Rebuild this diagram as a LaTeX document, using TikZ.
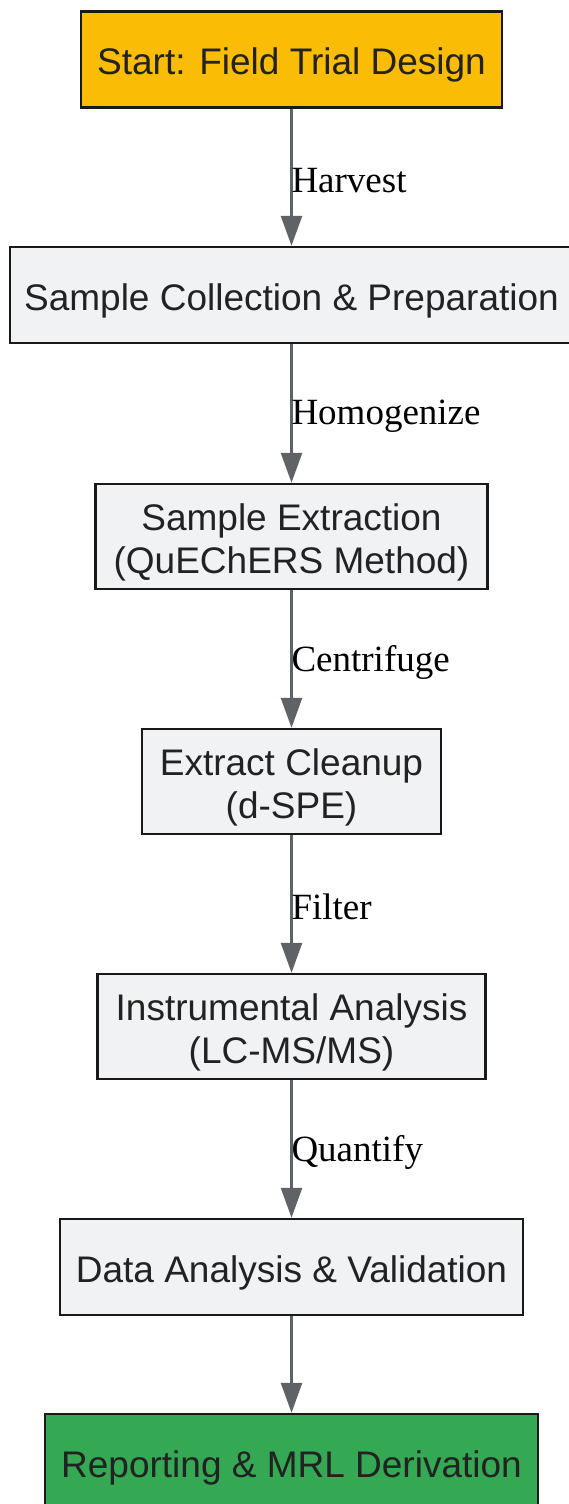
\documentclass[tikz,border=0pt]{standalone}
\usepackage{fontspec}
\setmainfont{Liberation Serif}
\newfontfamily\boxfont{Liberation Sans}
\usetikzlibrary{arrows.meta}

\definecolor{startfill}{HTML}{FBBC05}
\definecolor{endfill}{HTML}{34A853}
\definecolor{stepfill}{HTML}{F1F2F4}
\definecolor{flowgray}{HTML}{5F6368}
\definecolor{boxtext}{HTML}{222222}

% strut that pushes the first line down a little
\newcommand{\boxstrut}{\rule{0pt}{38.5pt}}

\tikzset{
  stagebox/.style={draw=black!90, line width=2.4pt, fill=stepfill, text=boxtext,
    font=\boxfont\fontsize{37}{43}\selectfont, align=center,
    inner xsep=14pt, inner ysep=0pt, minimum height=96pt},
  twoline/.style={minimum height=105pt},
  flow/.style={draw=flowgray, line width=2.6pt, -{Triangle[length=30pt,width=21pt]}},
  steplabel/.style={font=\fontsize{37}{41}\selectfont, anchor=west, inner sep=0pt,
    xshift=-1.3pt, yshift=-3pt}
}

\begin{document}
\begin{tikzpicture}[x=1pt,y=1pt]
  \useasboundingbox (0,0) rectangle (569,-1504);

  \node[stagebox, fill=startfill, inner xsep=16pt] (start) at (291.5,-59.5) {\boxstrut Start: Field Trial Design};
  \node[stagebox] (collect) at (291.5,-295) {\boxstrut Sample Collection \& Preparation};
  \node[stagebox, twoline, inner xsep=18pt] (extract) at (291.5,-536.5) {\boxstrut Sample Extraction\\(QuEChERS Method)};
  \node[stagebox, twoline, inner xsep=18pt] (cleanup) at (291.5,-781.5) {\boxstrut Extract Cleanup\\(d-SPE)};
  \node[stagebox, twoline, inner xsep=18pt] (instrument) at (291.5,-1026.5) {\boxstrut Instrumental Analysis\\(LC-MS/MS)};
  \node[stagebox, inner xsep=16pt] (data) at (291.5,-1267) {\boxstrut Data Analysis \& Validation};
  \node[stagebox, fill=endfill, inner xsep=16pt] (report) at (291.5,-1462) {\boxstrut Reporting \& MRL Derivation};

  \draw[flow] (start) -- (collect) node[steplabel, midway] {Harvest};
  \draw[flow] (collect) -- (extract) node[steplabel, midway] {Homogenize};
  \draw[flow] (extract) -- (cleanup) node[steplabel, midway] {Centrifuge};
  \draw[flow] (cleanup) -- (instrument) node[steplabel, midway] {Filter};
  \draw[flow] (instrument) -- (data) node[steplabel, midway] {Quantify};
  \draw[flow] (data) -- (report);
\end{tikzpicture}
\end{document}
